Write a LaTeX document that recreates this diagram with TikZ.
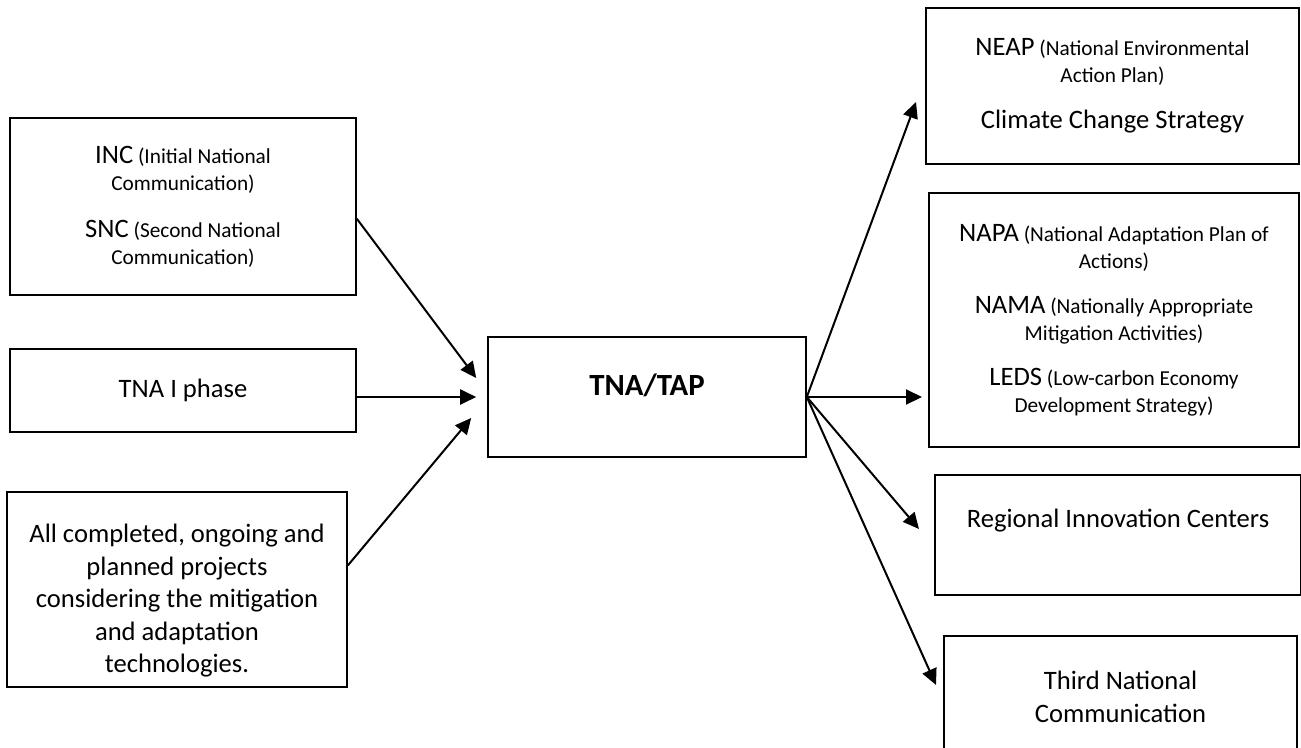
\documentclass[tikz,border=0pt]{standalone}
\usepackage{fontspec}
\setmainfont{Carlito}
\usetikzlibrary{arrows.meta,calc}

\newcommand{\lgtxt}{\fontsize{26.6}{32.5}\selectfont}
\newcommand{\smtxt}{\fontsize{21.3}{27}\selectfont}
\newcommand{\hdtxt}{\fontsize{30.8}{36}\selectfont\bfseries}

\begin{document}
\begin{tikzpicture}[x=1pt, y=-1pt,
        box/.style={draw, line width=1.6pt, rectangle, inner sep=0pt, align=center},
        arr/.style={line width=2pt, -{Triangle[length=16pt, width=15pt]}}]
    \useasboundingbox (0,0) rectangle (1301,747);
    % sources on the left
    \node at (183,206.5) [box, minimum width=346pt, minimum height=177pt, font=\smtxt] (INC) {{\lgtxt INC} (Initial National\\Communication)\\[20pt]{\lgtxt SNC} (Second National\\Communication)};
    \node at (183,390.5) [box, minimum width=346pt, minimum height=83pt, font=\lgtxt] (TNAphase) {TNA I phase};
    \node at (177,589.5) [box, minimum width=340pt, minimum height=195pt, font=\lgtxt] (projects) {\rule{0pt}{41pt}All completed, ongoing and\\planned projects\\considering the mitigation\\and adaptation\\technologies.};
    % centre
    \node at (647,397) [box, minimum width=318pt, minimum height=120pt, font=\hdtxt, text height=20pt, text depth=24pt] (TNATAP) {TNA/TAP};
    % targets on the right
    \node at (1112.5,86) [box, minimum width=373pt, minimum height=156pt, font=\smtxt] (NEAP) {{\lgtxt NEAP} (National Environmental\\Action Plan)\\[19pt]{\lgtxt Climate Change Strategy}};
    \node at (1114,320) [box, minimum width=370pt, minimum height=254pt, font=\smtxt] (NAPA) {{\lgtxt NAPA} (National Adaptation Plan of\\Actions)\\[18pt]{\lgtxt NAMA} (Nationally Appropriate\\Mitigation Activities)\\[18pt]{\lgtxt LEDS} (Low-carbon Economy\\Development Strategy)};
    \node at (1118,535) [box, minimum width=366pt, minimum height=120pt, font=\lgtxt, text depth=34pt] (RIC) {Regional Innovation Centers};
    \node at (1120.5,697) [box, minimum width=353pt, minimum height=122pt, font=\lgtxt] (TNC) {Third National\\Communication};
    % arrow ends, short of the boxes
    \coordinate (inINC) at ($(TNATAP.west)+(-11,-19)$);
    \coordinate (inTNA) at ($(TNATAP.west)+(-11,0)$);
    \coordinate (inPRJ) at ($(TNATAP.west)+(-16,21)$);
    \coordinate (toNEAP) at (916,102);
    \coordinate (toNAPA) at (922,397);
    \coordinate (toRIC) at (919,529);
    \coordinate (toTNC) at (936,685);
    \draw [arr] (INC.-4) -- (inINC);
    \draw [arr] (TNAphase.east |- TNATAP.west) -- (inTNA);
    \draw [arr] (projects.8) -- (inPRJ);
    \draw [arr] (TNATAP.east) -- (toNEAP);
    \draw [arr] (TNATAP.east) -- (toNAPA);
    \draw [arr] (TNATAP.east) -- (toRIC);
    \draw [arr] (TNATAP.east) -- (toTNC);
\end{tikzpicture}
\end{document}
